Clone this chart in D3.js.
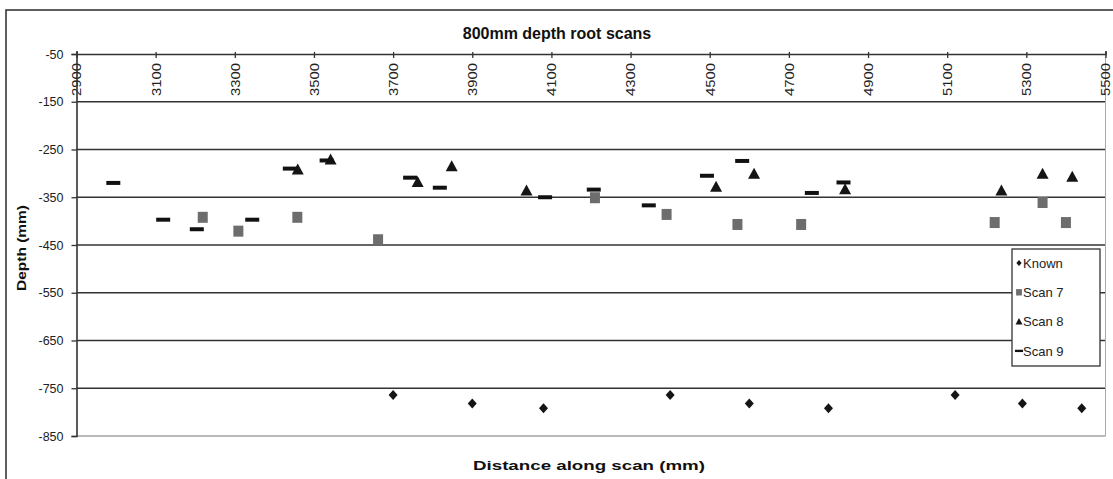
<!DOCTYPE html>
<html><head><meta charset="utf-8">
<script src="https://cdn.jsdelivr.net/npm/d3@7"></script>
<style>
html,body{margin:0;padding:0;background:#fff;}
svg{display:block;font-family:"Liberation Sans",Arial,sans-serif;}
</style></head>
<body><svg id="c" width="1113" height="479"></svg>
<script>
// ---- data ----
const xTicks = [2900,3100,3300,3500,3700,3900,4100,4300,4500,4700,4900,5100,5300,5500];
const yTicks = [-50,-150,-250,-350,-450,-550,-650,-750,-850];
const seriesNames = ["Known","Scan 7","Scan 8","Scan 9"];
const knownX = [3700,3900,4080,4400,4600,4800,5120,5290,5440];
const knownY = [-764,-782,-792,-764,-782,-792,-764,-782,-792];
const scan7X = [3219,3309,3458,3662,4210,4391,4570,4731,5220,5341,5400];
const scan7Y = [-392,-421,-392,-439,-351,-386,-407,-407,-403,-361,-403];
const scan8X = [3459,3542,3762,3848,4037,4516,4612,4842,5237,5341,5416];
const scan8Y = [-292,-271,-318,-285,-336,-328,-301,-333,-336,-301,-307];
const scan9X = [2993,3119,3204,3344,3439,3532,3743,3818,4084,4207,4346,4493,4582,4758,4838];
const scan9Y = [-320,-397,-417,-397,-290,-273,-309,-330,-350,-334,-367,-305,-274,-341,-319];

const svg = d3.select("#c");
const x = d3.scaleLinear().domain([2900,5500]).range([76.5,1105.5]);
const y = d3.scaleLinear().domain([-50,-850]).range([54,436]);

// outer chart frame (cropped on right/bottom)
svg.append("path").attr("d","M6,479 L6,10 L1113,10").attr("fill","none").attr("stroke","#2a2a2a").attr("stroke-width",1.5);

// title
svg.append("text").attr("x",557).attr("y",39).attr("text-anchor","middle")
  .attr("font-size",16).attr("font-weight","bold").attr("fill","#111").text("800mm depth root scans");

// gridlines
svg.append("g").selectAll("line").data(yTicks.slice(1)).join("line")
  .attr("x1",x(2900)).attr("x2",x(5500)).attr("y1",d=>y(d)).attr("y2",d=>y(d))
  .attr("stroke",d=>d===-850?"#777":"#333").attr("stroke-width",d=>d===-850?1.2:1.6);
// right border of plot area
svg.append("line").attr("x1",x(5500)).attr("x2",x(5500)).attr("y1",y(-50)).attr("y2",y(-850))
  .attr("stroke","#aaa").attr("stroke-width",1);

// top x axis
const gx = svg.append("g").attr("transform",`translate(0,${y(-50)})`)
  .call(d3.axisTop(x).tickValues(xTicks).tickSize(3).tickFormat(d=>String(d)));
gx.select(".domain").attr("stroke","#333").attr("stroke-width",1.6);
gx.selectAll(".tick line").attr("y1",-2).attr("y2",4).attr("stroke","#333").attr("stroke-width",1.3);
gx.selectAll(".tick text").attr("transform","rotate(-90)").attr("x",-9).attr("y",0).attr("dy","0.35em")
  .attr("text-anchor","end").attr("font-size",12.5).attr("fill","#222")
  .attr("font-family","'Liberation Sans',Arial,sans-serif")
  .attr("textLength",33).attr("lengthAdjust","spacingAndGlyphs");

// left y axis
const gy = svg.append("g").attr("transform",`translate(${x(2900)},0)`)
  .call(d3.axisLeft(y).tickValues(yTicks).tickSize(5).tickPadding(8).tickFormat(d=>String(d)));
gy.select(".domain").attr("stroke","#333").attr("stroke-width",1.6);
gy.selectAll(".tick line").attr("stroke","#333").attr("stroke-width",1.3);
gy.selectAll(".tick text").attr("font-size",12.5).attr("fill","#222")
  .attr("font-family","'Liberation Sans',Arial,sans-serif");

// axis titles
svg.append("text").attr("transform",`translate(26,248) rotate(-90)`)
  .attr("text-anchor","middle").attr("font-size",13).attr("font-weight","bold").attr("fill","#111")
  .attr("textLength",86).attr("lengthAdjust","spacingAndGlyphs")
  .text("Depth (mm)");
svg.append("text").attr("x",589).attr("y",470).attr("text-anchor","middle")
  .attr("font-size",13.5).attr("font-weight","bold").attr("fill","#111")
  .attr("textLength",232).attr("lengthAdjust","spacingAndGlyphs")
  .text("Distance along scan (mm)");

// marker shapes
const shapes = {
  "Known": s => `M0,${-5*s}L${4.5*s},0L0,${5*s}L${-4.5*s},0Z`,
  "Scan 7": s => `M${-5*s},${-5.5*s}h${10*s}v${11*s}h${-10*s}Z`,
  "Scan 8": s => `M0,${-6*s}L${6*s},${5*s}L${-6*s},${5*s}Z`,
  "Scan 9": s => `M${-7*s},${-2*s}h${14*s}v${4*s}h${-14*s}Z`
};
const fills = {"Known":"#151515","Scan 7":"#6d6d6d","Scan 8":"#151515","Scan 9":"#111"};
const data = {
  "Known": knownX.map((v,i)=>[v,knownY[i]]),
  "Scan 7": scan7X.map((v,i)=>[v,scan7Y[i]]),
  "Scan 8": scan8X.map((v,i)=>[v,scan8Y[i]]),
  "Scan 9": scan9X.map((v,i)=>[v,scan9Y[i]])
};
seriesNames.forEach(name=>{
  svg.append("g").selectAll("path").data(data[name]).join("path")
    .attr("transform",d=>`translate(${x(d[0])},${y(d[1])})`)
    .attr("d",shapes[name](1)).attr("fill",fills[name]);
});

// legend
const lg = svg.append("g").attr("transform","translate(1012,249)");
lg.append("rect").attr("x",0).attr("y",0).attr("width",88).attr("height",117)
  .attr("fill","#fff").attr("stroke","#333").attr("stroke-width",1.3);
seriesNames.forEach((name,i)=>{
  const cy = 14 + i*29.3;
  lg.append("path").attr("transform",`translate(7,${cy})`).attr("d",shapes[name](0.58)).attr("fill",fills[name]);
  lg.append("text").attr("x",11).attr("y",cy).attr("dy","0.36em").attr("font-size",13)
    .attr("fill","#222").text(name);
});
</script></body></html>
